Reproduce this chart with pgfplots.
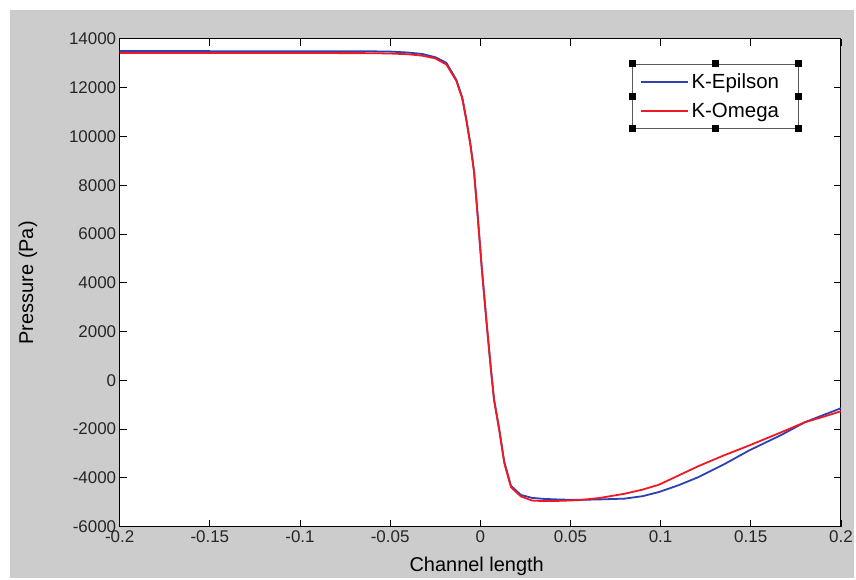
\documentclass[border=0pt]{standalone}
\usepackage{fontspec}
\setmainfont{Liberation Sans}
\usepackage{pgfplots}
\pgfplotsset{compat=1.18}

\definecolor{figgray}{RGB}{204,204,204}
\definecolor{keps}{RGB}{45,65,175}
\definecolor{komg}{RGB}{240,25,35}

\begin{document}
\begin{tikzpicture}[x=1pt,y=1pt]
\fill[white] (0,0) rectangle (856,579);
\fill[figgray] (10,0) rectangle (856,569);
\begin{axis}[
  at={(120pt,51pt)}, anchor=south west,
  scale only axis, width=723pt, height=489pt,
  xmin=-0.2, xmax=0.2, ymin=-6000, ymax=14000,
  scaled x ticks=false, scaled y ticks=false,
  axis background/.style={fill=white},
  axis line style={black,line width=0.9pt},
  tick style={black,line width=0.8pt},
  major tick length=7pt, tick align=inside,
  xtick={-0.2,-0.15,-0.1,-0.05,0,0.05,0.1,0.15,0.2},
  xticklabels={-0.2,-0.15,-0.1,-0.05,0,0.05,0.1,0.15,0.2},
  ytick={-6000,-4000,-2000,0,2000,4000,6000,8000,10000,12000,14000},
  yticklabels={-6000,-4000,-2000,0,2000,4000,6000,8000,10000,12000,14000},
  ticklabel style={font=\fontsize{17}{20}\selectfont, text=black!85},
  xlabel={Channel length}, ylabel={Pressure (Pa)},
  label style={font=\fontsize{20}{24}\selectfont},
  xlabel style={at={(axis description cs:0.495,0)}, anchor=center, yshift=-40pt},
  ylabel style={at={(axis description cs:-0.1272,0.5)}, anchor=center},
  legend cell align=left,
  legend image code/.code={\draw[#1] (0pt,0pt) -- (47pt,0pt);},
  legend style={name=leg, at={(axis description cs:0.711,0.949)}, anchor=north west,
    draw=black!65, line width=0.8pt, font=\fontsize{20.5}{24}\selectfont,
    inner xsep=7pt, inner ysep=7.5pt, row sep=9pt,
    nodes={inner ysep=2pt, inner xsep=3pt}},
]
\addplot[keps, line width=1.8pt] coordinates {
(-0.2,13500) (-0.1,13495) (-0.06,13490) (-0.05,13480) (-0.04,13440) (-0.032,13380)
(-0.025,13250) (-0.0188,13018) (-0.0133,12323) (-0.01,11600) (-0.0077,10687)
(-0.0055,9700) (-0.0035,8600) (-0.002,7280) (0.0009,4552) (0.0035,2372)
(0.0059,462) (0.0076,-765) (0.0105,-2000) (0.0133,-3342) (0.017,-4323)
(0.0225,-4700) (0.0288,-4820) (0.035,-4860) (0.045,-4890) (0.055,-4900)
(0.066,-4883) (0.08,-4850) (0.09,-4750) (0.099,-4581) (0.11,-4300)
(0.121,-3967) (0.135,-3450) (0.149,-2879) (0.167,-2238) (0.18,-1718)
(0.19,-1430) (0.2,-1145)
};
\addlegendentry{K-Epilson\kern9pt\relax}
\addplot[komg, line width=1.8pt] coordinates {
(-0.2,13420) (-0.1,13420) (-0.06,13415) (-0.05,13400) (-0.04,13370) (-0.032,13310)
(-0.025,13200) (-0.0188,12950) (-0.0133,12280) (-0.01,11550) (-0.0077,10640)
(-0.0055,9650) (-0.0035,8560) (-0.002,7240) (0.0009,4520) (0.0035,2340)
(0.0059,430) (0.0076,-800) (0.0105,-2040) (0.0133,-3390) (0.017,-4380)
(0.0225,-4760) (0.0288,-4930) (0.035,-4950) (0.045,-4940) (0.055,-4910)
(0.066,-4826) (0.08,-4650) (0.09,-4480) (0.099,-4282) (0.11,-3900)
(0.121,-3517) (0.135,-3080) (0.149,-2675) (0.167,-2127) (0.18,-1718)
(0.19,-1500) (0.2,-1268)
};
\addlegendentry{K-Omega}
\end{axis}
\foreach \a in {north west,north,north east,east,south east,south,south west,west}
  \node[fill=black, minimum size=7pt, inner sep=0pt] at (leg.\a) {};
\useasboundingbox (0,0) rectangle (856,579);
\end{tikzpicture}
\end{document}
